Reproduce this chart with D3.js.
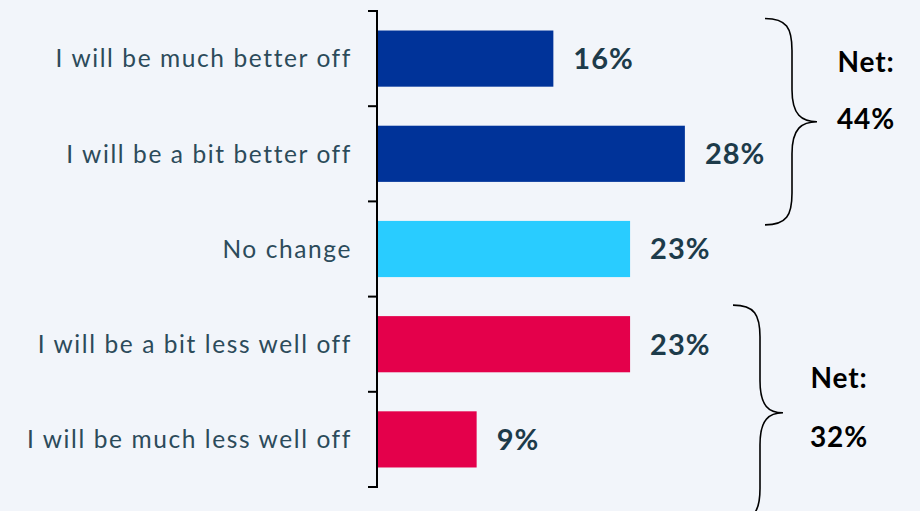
<!DOCTYPE html>
<html>
<head>
<meta charset="utf-8">
<script src="https://cdn.jsdelivr.net/npm/d3@7"></script>
<style>
  html, body { margin: 0; padding: 0; background: #F2F5FA; }
  svg { display: block; }
</style>
</head>
<body>
<svg id="chart" width="920" height="511"></svg>
<script>
// Survey answers, top to bottom
const categories = [
  "I will be much better off",
  "I will be a bit better off",
  "No change",
  "I will be a bit less well off",
  "I will be much less well off"
];
const values = [16, 28, 23, 23, 9];
const sentiment = ["positive", "positive", "neutral", "negative", "negative"];

// Net groups (sums of the answers they bracket)
const netGroups = [
  { name: "Net:", members: [0, 1] },
  { name: "Net:", members: [3, 4] }
];

const colors = { positive: "#003399", neutral: "#29CCFF", negative: "#E4004B" };

const svg = d3.select("#chart");
const axisX = 377;

const y = d3.scaleBand()
  .domain(categories)
  .range([11, 487])
  .paddingInner(0.41)
  .paddingOuter(0.205);

const x = d3.scaleLinear()
  .domain([0, 50])
  .range([axisX + 1, axisX + 1 + 548]);

// Bars
svg.append("g").selectAll("rect")
  .data(categories)
  .join("rect")
  .attr("x", x(0))
  .attr("y", d => y(d))
  .attr("width", (d, i) => x(values[i]) - x(0))
  .attr("height", y.bandwidth())
  .attr("fill", (d, i) => colors[sentiment[i]]);

// Value labels
svg.append("g").selectAll("text")
  .data(categories)
  .join("text")
  .attr("x", (d, i) => x(values[i]) + 20)
  .attr("y", d => y(d) + y.bandwidth() / 2)
  .attr("dy", "0.36em")
  .attr("font-family", "Lato, 'Noto Sans', sans-serif")
  .attr("font-weight", 700)
  .attr("font-size", 29)
  .attr("letter-spacing", 1)
  .attr("fill", "#1D3B4A")
  .text((d, i) => values[i] + "%");

// Category axis with ticks on the band boundaries
const step = y.step();
const axisTop = y.range()[0], axisBottom = y.range()[1];
const axis = svg.append("g");
axis.append("line")
  .attr("x1", axisX).attr("x2", axisX)
  .attr("y1", axisTop).attr("y2", axisBottom)
  .attr("stroke", "#000").attr("stroke-width", 2);
axis.selectAll("line.tick")
  .data(d3.range(categories.length + 1))
  .join("line")
  .attr("class", "tick")
  .attr("x1", axisX - 9).attr("x2", axisX + 1)
  .attr("y1", i => axisTop + i * step)
  .attr("y2", i => axisTop + i * step)
  .attr("stroke", "#000").attr("stroke-width", 2);
axis.selectAll("text")
  .data(categories)
  .join("text")
  .attr("x", axisX - 25)
  .attr("y", d => y(d) + y.bandwidth() / 2)
  .attr("dy", "0.36em")
  .attr("text-anchor", "end")
  .attr("font-family", "Lato, 'Noto Sans', sans-serif")
  .attr("font-size", 24.5)
  .attr("letter-spacing", 1.6)
  .attr("fill", "#2C4B5A")
  .text(d => d);

// Curly brace path: opens to the left, tip points right
function bracePath(x0, y0, y1, ym, bulge, tip, q) {
  const x1 = x0 + bulge, xt = x0 + tip;
  return `M${x0},${y0}` +
    `C${x0 + bulge * 0.8},${y0} ${x1},${y0 + q * 0.3} ${x1},${y0 + q}` +
    `L${x1},${ym - q}` +
    `C${x1},${ym - q * 0.2} ${x1 + (xt - x1) * 0.4},${ym} ${xt},${ym}` +
    `C${x1 + (xt - x1) * 0.4},${ym} ${x1},${ym + q * 0.2} ${x1},${ym + q}` +
    `L${x1},${y1 - q}` +
    `C${x1},${y1 - q * 0.3} ${x0 + bulge * 0.8},${y1} ${x0},${y1}`;
}

// Brace placement for each net group
const braceLayout = [
  { x0: 765, top: y(categories[0]) - 12, bottom: y(categories[1]) + y.bandwidth() + 43,
    tipX: 52, textX: 866, nameDy: -60, valueDy: -3 },
  { x0: 733, top: y(categories[3]) - 11, bottom: y(categories[4]) + y.bandwidth() + 53,
    tipX: 50, textX: 839, nameDy: -35, valueDy: 24 }
];

const braces = svg.append("g");
netGroups.forEach((g, gi) => {
  const L = braceLayout[gi];
  const ym = (L.top + L.bottom) / 2;
  braces.append("path")
    .attr("d", bracePath(L.x0, L.top, L.bottom, ym, 27, L.tipX, 32))
    .attr("fill", "none")
    .attr("stroke", "#000")
    .attr("stroke-width", 1.6);
  const net = d3.sum(g.members, i => values[i]);
  const t = braces.append("text")
    .attr("text-anchor", "middle")
    .attr("font-family", "Lato, 'Noto Sans', sans-serif")
    .attr("font-weight", 700)
    .attr("font-size", 28)
    .attr("letter-spacing", 0.8)
    .attr("fill", "#000");
  t.append("tspan").attr("x", L.textX).attr("y", ym + L.nameDy).attr("dy", "0.36em").text(g.name);
  t.append("tspan").attr("x", L.textX).attr("y", ym + L.valueDy).attr("dy", "0.36em").text(net + "%");
});
</script>
</body>
</html>
